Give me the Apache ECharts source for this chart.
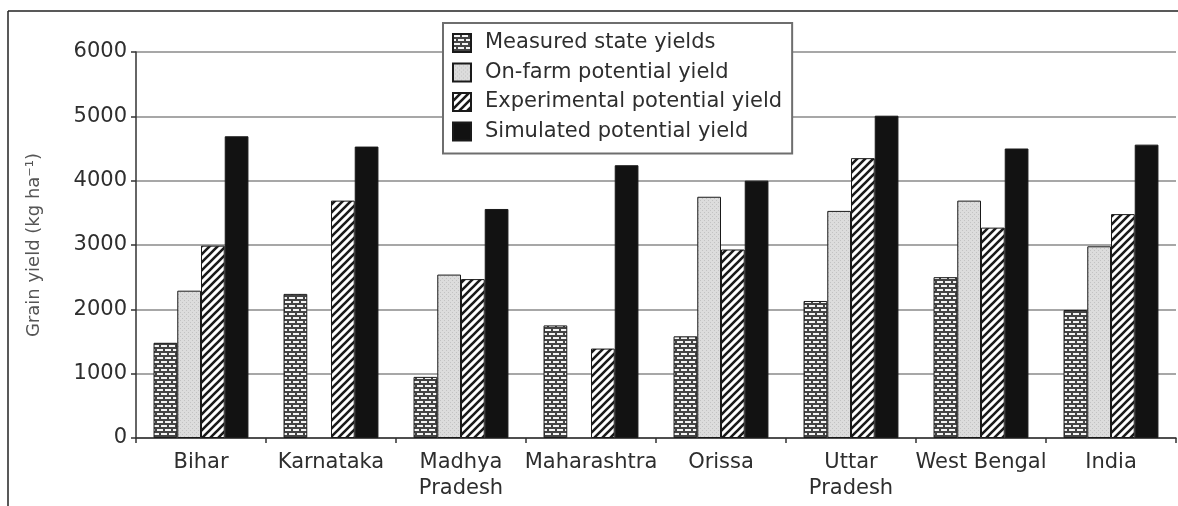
<!DOCTYPE html>
<html>
<head>
<meta charset="utf-8">
<script src="https://cdn.jsdelivr.net/npm/echarts@6/dist/echarts.min.js"></script>
<style>
html,body{margin:0;padding:0;background:#fff;overflow:hidden;}
#chart{width:1178px;height:506px;}
</style>
</head>
<body>
<div id="chart"></div>
<script>
var categories = ['Bihar', 'Karnataka', 'Madhya\nPradesh', 'Maharashtra', 'Orissa', 'Uttar\nPradesh', 'West Bengal', 'India'];
var seriesNames = ['Measured state yields', 'On-farm potential yield', 'Experimental potential yield', 'Simulated potential yield'];
var measuredYield = [1480, 2240, 950, 1750, 1580, 2130, 2500, 1990];
var onFarmYield = [2290, null, 2540, null, 3750, 3530, 3690, 2980];
var experimentalYield = [2990, 3690, 2470, 1390, 2930, 4350, 3270, 3480];
var simulatedYield = [4690, 4530, 3560, 4240, 4000, 5010, 4500, 4560];
var yTicks = [0, 1000, 2000, 3000, 4000, 5000, 6000];

function makeCanvas(w, h, draw) {
  var c = document.createElement('canvas');
  c.width = w; c.height = h;
  draw(c.getContext('2d'));
  return c;
}
var brickPat = makeCanvas(8, 8, function (g) {
  g.fillStyle = '#444'; g.fillRect(0, 0, 8, 8);
  g.fillStyle = '#f4f4f4';
  g.fillRect(1, 1, 6, 2);
  g.fillRect(5, 5, 3, 2);
  g.fillRect(0, 5, 3, 2);
});
var dotPat = makeCanvas(4, 4, function (g) {
  g.fillStyle = '#dcdcdc'; g.fillRect(0, 0, 4, 4);
  g.fillStyle = '#c2c2c2';
  g.fillRect(0, 0, 1, 1);
  g.fillRect(2, 2, 1, 1);
});
var hatchPat = makeCanvas(8, 8, function (g) {
  g.fillStyle = '#fff'; g.fillRect(0, 0, 8, 8);
  g.strokeStyle = '#1a1a1a'; g.lineWidth = 2.6;
  g.beginPath();
  g.moveTo(0, 8); g.lineTo(8, 0);
  g.moveTo(-4, 4); g.lineTo(4, -4);
  g.moveTo(4, 12); g.lineTo(12, 4);
  g.stroke();
});

var fills = [
  { image: brickPat, repeat: 'repeat' },
  { image: dotPat, repeat: 'repeat' },
  { image: hatchPat, repeat: 'repeat' },
  '#121212'
];
var values = [measuredYield, onFarmYield, experimentalYield, simulatedYield];

var chart = echarts.init(document.getElementById('chart'), null, { renderer: 'canvas' });
var fontFam = '"DejaVu Sans", sans-serif';
var textCol = '#2e2e2e';

chart.setOption({
  animation: false,
  backgroundColor: '#fff',
  grid: { left: 136, right: 2, top: 52, bottom: 68, containLabel: false, show: false },
  legend: {
    orient: 'vertical',
    left: 443,
    top: 23,
    padding: [9, 10, 11, 9],
    itemWidth: 18,
    itemHeight: 18,
    itemGap: 7.5,
    icon: 'rect',
    backgroundColor: '#fff',
    borderColor: '#6e6e6e',
    borderWidth: 2,
    borderRadius: 0,
    textStyle: { fontFamily: fontFam, fontSize: 21, color: textCol, lineHeight: 22, padding: [0, 0, 0, 9] },
    data: seriesNames
  },
  xAxis: {
    type: 'category',
    data: categories,
    axisLine: { show: true, lineStyle: { color: '#333', width: 1.5 } },
    axisTick: { show: true, length: 5, inside: false, lineStyle: { color: '#333', width: 1.5 } },
    axisLabel: { fontFamily: fontFam, fontSize: 21, color: textCol, margin: 12, lineHeight: 26, interval: 0 },
    splitLine: { show: false },
    splitArea: { show: false }
  },
  yAxis: {
    type: 'value',
    min: yTicks[0],
    max: yTicks[yTicks.length - 1],
    interval: yTicks[1] - yTicks[0],
    name: 'Grain yield (kg ha\u207B\u00B9)',
    nameLocation: 'middle',
    nameRotate: 90,
    nameGap: 93,
    nameTextStyle: { fontFamily: fontFam, fontSize: 18, color: '#555' },
    axisLine: { show: true, lineStyle: { color: '#333', width: 1.5 } },
    axisTick: { show: true, length: 5, lineStyle: { color: '#333', width: 1.5 } },
    axisLabel: {
      fontFamily: fontFam, fontSize: 21, color: textCol, margin: 9,
      formatter: function (v) { return String(v); }
    },
    splitLine: { show: true, lineStyle: { color: '#8a8a8a', width: 1.5 } }
  },
  graphic: [{
    type: 'line',
    z: 100,
    silent: true,
    shape: { x1: 8, y1: 11, x2: 1178, y2: 11 },
    style: { stroke: '#222', lineWidth: 1.5 }
  }, {
    type: 'line',
    z: 100,
    silent: true,
    shape: { x1: 8, y1: 11, x2: 8, y2: 506 },
    style: { stroke: '#222', lineWidth: 1.5 }
  }],
  series: seriesNames.map(function (n, i) {
    return {
      name: n,
      type: 'bar',
      data: values[i],
      barGap: '0%',
      barCategoryGap: '27%',
      itemStyle: { color: fills[i], borderColor: '#1a1a1a', borderWidth: 1 }
    };
  })
});
</script>
</body>
</html>
